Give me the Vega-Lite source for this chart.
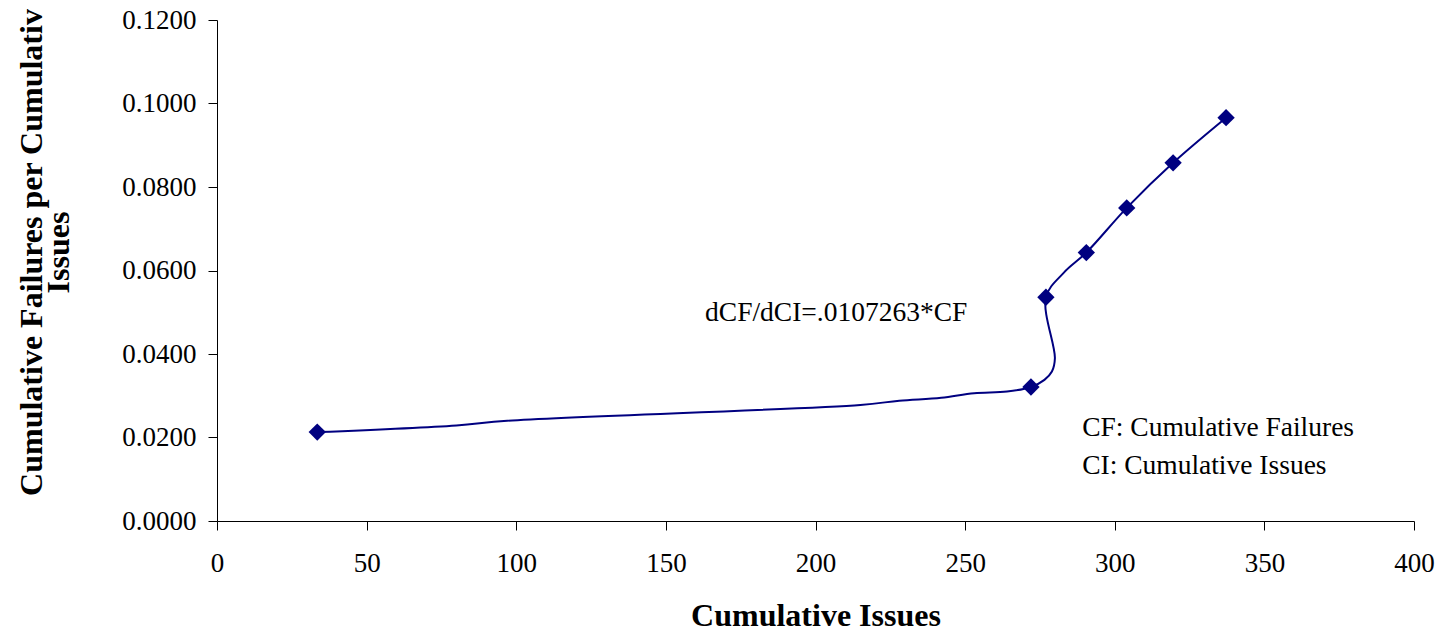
{
  "$schema": "https://vega.github.io/schema/vega-lite/v6.json",
  "description": "Cumulative failures per cumulative issues against cumulative issues.",
  "width": 1197,
  "height": 501,
  "autosize": {"type": "none"},
  "padding": {"left": 217, "top": 20, "right": 29, "bottom": 115},
  "background": "white",
  "config": {
    "view": {"stroke": null},
    "font": "Liberation Serif",
    "axis": {
      "grid": false,
      "domainColor": "black",
      "domainWidth": 1,
      "tickColor": "black",
      "tickSize": 9,
      "labelFont": "Liberation Serif",
      "labelFontSize": 27,
      "labelColor": "black",
      "titleFont": "Liberation Serif",
      "titleFontWeight": "bold",
      "titleColor": "black"
    }
  },
  "datasets": {
    "curve": [
      {"i": 1, "ci": 33.5, "ratio": 0.0213, "marker": true},
      {"i": 2, "ci": 80, "ratio": 0.0229, "marker": false},
      {"i": 3, "ci": 97, "ratio": 0.0240, "marker": false},
      {"i": 4, "ci": 215, "ratio": 0.0278, "marker": false},
      {"i": 5, "ci": 228, "ratio": 0.0288, "marker": false},
      {"i": 6, "ci": 242, "ratio": 0.0295, "marker": false},
      {"i": 7, "ci": 253, "ratio": 0.0306, "marker": false},
      {"i": 8, "ci": 264, "ratio": 0.0310, "marker": false},
      {"i": 9, "ci": 272, "ratio": 0.0321, "marker": true},
      {"i": 10, "ci": 276.5, "ratio": 0.0338, "marker": false},
      {"i": 11, "ci": 279, "ratio": 0.0358, "marker": false},
      {"i": 12, "ci": 280, "ratio": 0.0390, "marker": false},
      {"i": 13, "ci": 277, "ratio": 0.0536, "marker": true},
      {"i": 14, "ci": 283, "ratio": 0.0595, "marker": false},
      {"i": 15, "ci": 290.5, "ratio": 0.0643, "marker": true},
      {"i": 16, "ci": 304, "ratio": 0.0750, "marker": true},
      {"i": 17, "ci": 319.5, "ratio": 0.0858, "marker": true},
      {"i": 18, "ci": 337.2, "ratio": 0.0966, "marker": true}
    ],
    "notes": [
      {"ci": 163.1, "ratio": 0.0479, "label": "dCF/dCI=.0107263*CF"},
      {"ci": 289.1, "ratio": 0.0204, "label": "CF: Cumulative Failures"},
      {"ci": 289.1, "ratio": 0.0112, "label": "CI: Cumulative Issues"}
    ]
  },
  "encoding": {
    "x": {
      "field": "ci",
      "type": "quantitative",
      "scale": {"domain": [0, 400], "nice": false},
      "axis": {
        "title": "Cumulative Issues",
        "titleFontSize": 32,
        "titlePadding": 24,
        "values": [0, 50, 100, 150, 200, 250, 300, 350, 400],
        "labelPadding": 20,
        "labelFlush": false
      }
    },
    "y": {
      "field": "ratio",
      "type": "quantitative",
      "scale": {"domain": [0, 0.12], "nice": false},
      "axis": {
        "title": ["Cumulative Failures per Cumulativ", "Issues"],
        "titleFontSize": 32,
        "titleLineHeight": 27,
        "titlePadding": 46,
        "titleY": 232,
        "values": [0, 0.02, 0.04, 0.06, 0.08, 0.1, 0.12],
        "format": ".4f",
        "labelPadding": 12,
        "labelFlush": false
      }
    }
  },
  "layer": [
    {
      "data": {"name": "curve"},
      "mark": {"type": "line", "color": "#000080", "strokeWidth": 2, "interpolate": "catmull-rom"},
      "encoding": {"order": {"field": "i", "type": "quantitative"}}
    },
    {
      "data": {"name": "curve"},
      "transform": [{"filter": "datum.marker"}],
      "mark": {"type": "point", "shape": "diamond", "filled": true, "size": 300, "color": "#000080", "opacity": 1}
    },
    {
      "data": {"name": "notes"},
      "mark": {"type": "text", "align": "left", "baseline": "alphabetic", "fontSize": 27.5, "color": "black", "font": "Liberation Serif"},
      "encoding": {"text": {"field": "label", "type": "nominal"}}
    }
  ]
}
